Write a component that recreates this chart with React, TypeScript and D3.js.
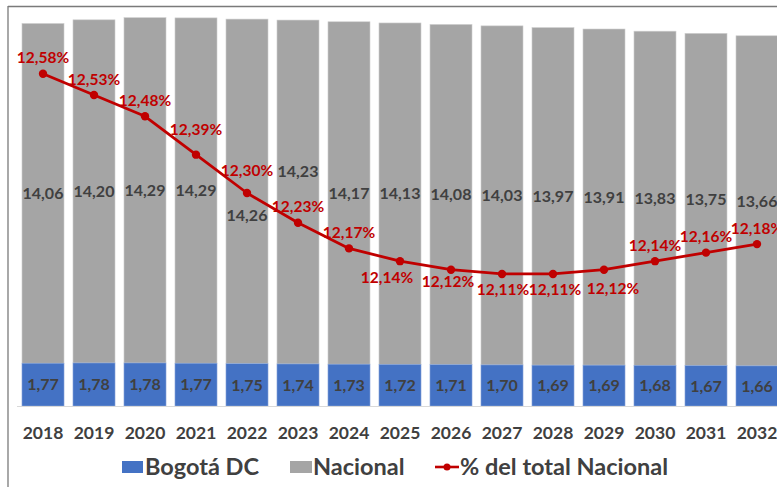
import React from 'react';
import * as d3 from 'd3';

const years = ['2018','2019','2020','2021','2022','2023','2024','2025','2026','2027','2028','2029','2030','2031','2032'];
const bogota = [1.77,1.78,1.78,1.77,1.75,1.74,1.73,1.72,1.71,1.70,1.69,1.69,1.68,1.67,1.66];
const nacional = [14.06,14.20,14.29,14.29,14.26,14.23,14.17,14.13,14.08,14.03,13.97,13.91,13.83,13.75,13.66];
const pctTotal = [12.58,12.53,12.48,12.39,12.30,12.23,12.17,12.14,12.12,12.11,12.11,12.12,12.14,12.16,12.18];

// label layout (not data)
const lineLabelNudge: [number, number][] = [
  [0,-16],[0,-16],[0,-16],[0,-25],[0,-23],[0,-16],[0,-16],
  [-13,16],[-3,12],[1,15],[2,15],[9,19],[0,-16],[0,-16],[0,-16],
];
const grayLabelNudge = [0,0,0,0,24,-21,0,0,0,0,0,0,0,0,0];

const W = 777, H = 487;
const BLUE = '#4472c4', GRAY = '#a5a5a5', RED = '#c00000', TXT = '#404040';
const FONT = 'Lato, "Open Sans", sans-serif';

export default function App() {
  const x = d3.scaleBand<string>().domain(years).range([17.5, 17.5 + 15 * 51]).paddingInner(0.176).paddingOuter(0.088);
  const y = d3.scaleLinear().domain([0, 16.8]).range([406, 0]);
  const y2 = d3.scaleLinear().domain([11.8, 12.75]).range([406, 1.3]);
  const cx = (i: number) => (x(years[i]) as number) + x.bandwidth() / 2;
  const line = d3.line<number>().x((_, i) => cx(i)).y(d => y2(d));
  const fmt = (v: number) => v.toFixed(2).replace('.', ',');

  return (
    <svg width={W} height={H} style={{ position: 'absolute', left: 0, top: 0, background: '#fff' }}>
      <rect x={0} y={0} width={W} height={H} fill="#fff" />
      {/* frame */}
      <line x1={8} x2={W} y1={6.5} y2={6.5} stroke="#7a7a7a" strokeWidth={1.3} />
      <line x1={8} x2={8} y1={6} y2={H} stroke="#7a7a7a" strokeWidth={1.3} />
      {/* bars */}
      {years.map((yr, i) => (
        <g key={yr}>
          <rect x={x(yr)} width={x.bandwidth()} y={y(bogota[i] + nacional[i])} height={y(bogota[i]) - y(bogota[i] + nacional[i])} fill={GRAY} stroke="#d0d0d0" strokeWidth={0.6} />
          <rect x={x(yr)} width={x.bandwidth()} y={y(bogota[i])} height={y(0) - y(bogota[i])} fill={BLUE} stroke="#8aa6d8" strokeWidth={0.6} />
        </g>
      ))}
      {/* baseline */}
      <line x1={17} x2={W} y1={406.5} y2={406.5} stroke="#d9d9d9" strokeWidth={1} />
      {/* bar labels */}
      {years.map((yr, i) => (
        <g key={'l' + yr} fontFamily={FONT} fontWeight={700} fontSize={16} fill={TXT} textAnchor="middle">
          <text x={cx(i)} y={(y(bogota[i]) + y(0)) / 2} dy="0.36em">{fmt(bogota[i])}</text>
          <text x={cx(i)} y={(y(bogota[i]) + y(bogota[i] + nacional[i])) / 2 + grayLabelNudge[i]} dy="0.36em">{fmt(nacional[i])}</text>
        </g>
      ))}
      {/* line */}
      <path d={line(pctTotal) || ''} fill="none" stroke={RED} strokeWidth={2.8} strokeLinejoin="round" />
      {pctTotal.map((v, i) => (
        <circle key={'c' + i} cx={cx(i)} cy={y2(v)} r={4.2} fill={RED} />
      ))}
      {pctTotal.map((v, i) => (
        <text key={'p' + i} x={cx(i) + lineLabelNudge[i][0]} y={y2(v) + lineLabelNudge[i][1]} dy="0.36em"
          fontFamily={FONT} fontWeight={700} fontSize={15.5} fill={RED} textAnchor="middle">{fmt(v) + '%'}</text>
      ))}
      {/* x axis labels */}
      {years.map((yr, i) => (
        <text key={'x' + yr} x={cx(i)} y={433} dy="0.36em" fontFamily={FONT} fontWeight={700} fontSize={17.5} fill={TXT} textAnchor="middle">{yr}</text>
      ))}
      {/* legend */}
      <g fontFamily={FONT} fontWeight={700} fontSize={23.5} fill={TXT}>
        <rect x={122} y={461} width={21} height={12} fill={BLUE} />
        <text x={145} y={467} dy="0.36em">Bogotá DC</text>
        <rect x={290} y={461} width={22} height={12} fill={GRAY} />
        <text x={313} y={467} dy="0.36em">Nacional</text>
        <line x1={435} x2={459} y1={467} y2={467} stroke={RED} strokeWidth={2.6} />
        <circle cx={447} cy={467} r={3.5} fill={RED} />
        <text x={460} y={467} dy="0.36em">% del total Nacional</text>
      </g>
    </svg>
  );
}
